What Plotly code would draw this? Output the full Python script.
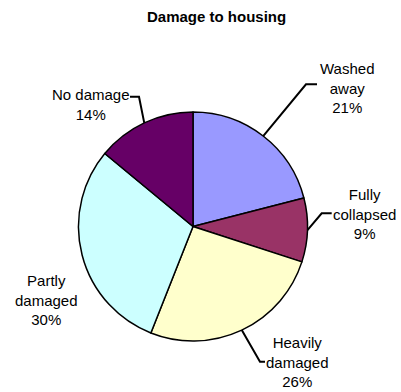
import math
import plotly.graph_objects as go

# ---- data ----
categories = ["Washed away", "Fully collapsed", "Heavily damaged", "Partly damaged", "No damage"]
label_text = ["Washed<br>away", "Fully<br>collapsed", "Heavily<br>damaged", "Partly<br>damaged", "No damage"]
values = [21, 9, 26, 30, 14]
colors = ["#9999FF", "#993366", "#FFFFCC", "#CCFFFF", "#660066"]

# ---- layout (pixels, in screenshot coordinates) ----
W, H = 401, 392
CX, CY, R = 193, 226.5, 114.5
# label centres, and leader-line elbow / end points (None = no leader)
label_pos = [(346.5, 88), (364.5, 214), (297, 362), (46, 300), (91.3, 104)]
leader = [((306, 84.3), (317, 84.3)),
          ((321.7, 213.3), (331.7, 213.3)),
          ((260, 361.7), (265, 361.7)),
          None,
          ((139, 96.7), (130, 96.7))]

FONT = "Arial, Liberation Sans, sans-serif"


def px(x, y):
    return x / W, 1 - y / H


d0 = px(CX - R, CY + R)
d1 = px(CX + R, CY - R)
fig = go.Figure(go.Pie(
    labels=categories, values=values, sort=False, direction="clockwise",
    marker=dict(colors=colors, line=dict(color="black", width=1.5)),
    textinfo="none", hoverinfo="label+percent",
    domain=dict(x=[d0[0], d1[0]], y=[d0[1], d1[1]]),
))

total = sum(values)
annotations = []
shapes = []
cum = 0
for i, v in enumerate(values):
    mid = (cum + v / 2) / total * 2 * math.pi
    cum += v
    ax = CX + R * math.sin(mid)
    ay = CY - R * math.cos(mid)
    pct = round(v / total * 100)
    lx, ly = px(*label_pos[i])
    annotations.append(dict(x=lx, y=ly, xref="paper", yref="paper", showarrow=False,
                            text=f"{label_text[i]}<br>{pct}%", align="center",
                            xanchor="center", yanchor="middle",
                            font=dict(family=FONT, size=15, color="black")))
    if leader[i] is not None:
        (ex, ey), (fx, fy) = leader[i]
        p0 = px(ax, ay); p1 = px(ex, ey); p2 = px(fx, fy)
        shapes.append(dict(type="path", xref="paper", yref="paper",
                           path=f"M {p0[0]} {p0[1]} L {p1[0]} {p1[1]} L {p2[0]} {p2[1]}",
                           line=dict(color="black", width=2)))

tx, ty = px(216.5, 16.5)
annotations.append(dict(x=tx, y=ty, xref="paper", yref="paper", showarrow=False,
                        text="<b>Damage to housing</b>", xanchor="center", yanchor="middle",
                        font=dict(family=FONT, size=15, color="black")))

fig.update_layout(width=W, height=H, margin=dict(l=0, r=0, t=0, b=0),
                  paper_bgcolor="white", plot_bgcolor="white", showlegend=False,
                  annotations=annotations, shapes=shapes)
fig.write_html("out.html", config={"displayModeBar": False},
               post_script="document.body.style.margin='0';document.body.style.overflow='hidden';")
